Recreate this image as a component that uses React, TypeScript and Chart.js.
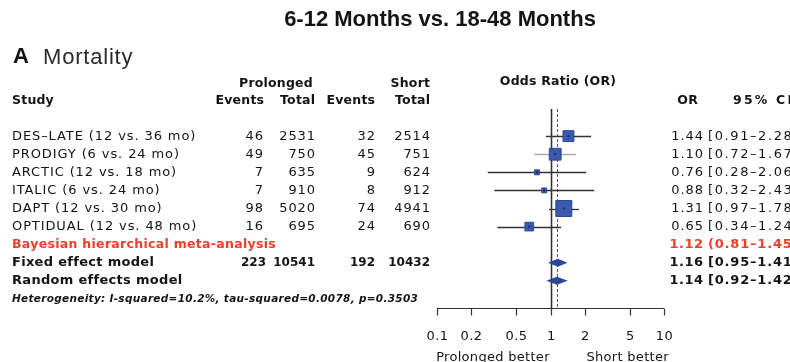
import React, { useEffect, useRef } from "react";
import { Chart, registerables } from "chart.js";

Chart.register(...registerables);

// ---------- data ----------
const title = "6-12 Months vs. 18-48 Months";
const panelLetter = "A";
const panelTitle = "Mortality";
const studies = [
  "DES–LATE (12 vs. 36 mo)",
  "PRODIGY (6 vs. 24 mo)",
  "ARCTIC (12 vs. 18 mo)",
  "ITALIC (6 vs. 24 mo)",
  "DAPT (12 vs. 30 mo)",
  "OPTIDUAL (12 vs. 48 mo)",
];
const eventsProlonged = [46, 49, 7, 7, 98, 16];
const totalProlonged = [2531, 750, 635, 910, 5020, 695];
const eventsShort = [32, 45, 9, 8, 74, 24];
const totalShort = [2514, 751, 624, 912, 4941, 690];
const oddsRatio = [1.44, 1.1, 0.76, 0.88, 1.31, 0.65];
const ciLower = [0.91, 0.72, 0.28, 0.32, 0.97, 0.34];
const ciUpper = [2.28, 1.67, 2.06, 2.43, 1.78, 1.24];
const weights = [19.1, 22.3, 4.0, 3.8, 40.9, 12.0];

const bayesLabel = "Bayesian hierarchical meta-analysis";
const bayesOR = 1.12;
const bayesLower = 0.81;
const bayesUpper = 1.45;

const modelLabels = ["Fixed effect model", "Random effects model"];
const modelOR = [1.16, 1.14];
const modelLower = [0.95, 0.92];
const modelUpper = [1.41, 1.42];
const totalEventsProlonged = 223;
const totalNProlonged = 10541;
const totalEventsShort = 192;
const totalNShort = 10432;

const heterogeneity =
  "Heterogeneity: I-squared=10.2%, tau-squared=0.0078, p=0.3503";
const axisTicks = [0.1, 0.2, 0.5, 1, 2, 5, 10];
const axisTickLabels = ["0.1", "0.2", "0.5", "1", "2", "5", "10"];
const leftFavours = "Prolonged better";
const rightFavours = "Short better";

// ---------- styles ----------
const FONT = "'DejaVu Sans', sans-serif";
const TEXT = "#141414";
const RED = "#ec3f2b";
const BOX = "#3b59ad";
const DIAMOND = "#2b4797";

const fmt = (v: number) => v.toFixed(2);
const ci = (lo: number, hi: number) => `[${fmt(lo)}–${fmt(hi)}]`;

function txt(
  ctx: CanvasRenderingContext2D,
  s: string,
  x: number,
  y: number,
  font: string,
  align: CanvasTextAlign = "left",
  color = TEXT,
  spacing = 0
) {
  ctx.save();
  ctx.font = font;
  ctx.fillStyle = color;
  ctx.textAlign = align;
  ctx.textBaseline = "middle";
  (ctx as any).letterSpacing = spacing + "px";
  ctx.fillText(s, align === "right" ? x + spacing : x, y);
  ctx.restore();
}

const forestPlugin = {
  id: "forest",
  beforeDatasetsDraw(chart: any) {
    const { ctx, chartArea, scales } = chart;
    const xs = scales.x;
    const ys = scales.y;
    ctx.save();
    // reference line at 1
    ctx.strokeStyle = "#333";
    ctx.lineWidth = 1.6;
    const x1 = Math.round(xs.getPixelForValue(1)) + 0.5;
    ctx.beginPath();
    ctx.moveTo(x1, chartArea.top);
    ctx.lineTo(x1, chartArea.bottom);
    ctx.stroke();
    // dashed summary line
    ctx.strokeStyle = "#555";
    ctx.lineWidth = 1;
    ctx.setLineDash([3, 2]);
    const xr = Math.round(xs.getPixelForValue(modelOR[1])) + 0.5;
    ctx.beginPath();
    ctx.moveTo(xr, chartArea.top);
    ctx.lineTo(xr, chartArea.bottom);
    ctx.stroke();
    ctx.setLineDash([]);
    // CI lines
    studies.forEach((_, i) => {
      const y = Math.round(ys.getPixelForValue(i)) + 0.5;
      ctx.strokeStyle = i === 1 ? "#a8a8a8" : "#333";
      ctx.lineWidth = 1.3;
      ctx.beginPath();
      ctx.moveTo(xs.getPixelForValue(ciLower[i]), y);
      ctx.lineTo(xs.getPixelForValue(ciUpper[i]), y);
      ctx.stroke();
    });
    ctx.restore();
  },
  afterDatasetsDraw(chart: any) {
    const { ctx, chartArea, scales } = chart;
    const xs = scales.x;
    const ys = scales.y;
    ctx.save();
    // center marks
    studies.forEach((_, i) => {
      const y = ys.getPixelForValue(i);
      ctx.fillStyle = "#1a2a5a";
      ctx.fillRect(xs.getPixelForValue(oddsRatio[i]) - 1, y - 1, 2, 2);
    });
    // diamonds
    modelLabels.forEach((_, k) => {
      const y = ys.getPixelForValue(studies.length + 1 + k);
      ctx.fillStyle = DIAMOND;
      ctx.beginPath();
      ctx.moveTo(xs.getPixelForValue(modelLower[k]), y);
      ctx.lineTo(xs.getPixelForValue(modelOR[k]), y - 4);
      ctx.lineTo(xs.getPixelForValue(modelUpper[k]), y);
      ctx.lineTo(xs.getPixelForValue(modelOR[k]), y + 4);
      ctx.closePath();
      ctx.fill();
    });
    // axis
    const yb = Math.round(chartArea.bottom) + 0.5;
    ctx.strokeStyle = "#333";
    ctx.lineWidth = 1.2;
    ctx.beginPath();
    ctx.moveTo(xs.getPixelForValue(axisTicks[0]), yb);
    ctx.lineTo(xs.getPixelForValue(axisTicks[axisTicks.length - 1]), yb);
    ctx.stroke();
    axisTicks.forEach((t, i) => {
      const x = Math.round(xs.getPixelForValue(t)) + 0.5;
      ctx.beginPath();
      ctx.moveTo(x, yb);
      ctx.lineTo(x, yb + 7);
      ctx.stroke();
      txt(ctx, axisTickLabels[i], x, yb + 28, `13px ${FONT}`, "center", TEXT, 0.5);
    });
    const x1 = xs.getPixelForValue(1);
    txt(ctx, leftFavours, x1 - 1, yb + 49, `13px ${FONT}`, "right", TEXT, 0.3);
    txt(ctx, rightFavours, x1 + 36, yb + 49, `13px ${FONT}`, "left", TEXT, 0.3);

    // titles
    txt(ctx, title, 440, 20, `bold 22px 'Liberation Sans', Arial, sans-serif`, "center");
    txt(ctx, panelLetter, 13, 57, `bold 22px 'Liberation Sans', Arial, sans-serif`, "left");
    txt(ctx, panelTitle, 43, 58, `22px 'Liberation Sans', Arial, sans-serif`, "left", "#2a2a2a", 0.8);

    // headers
    const hb = `bold 12.5px ${FONT}`;
    txt(ctx, "Prolonged", 276, 84, hb, "center", TEXT, 0.2);
    txt(ctx, "Short", 430, 84, hb, "right", TEXT, 0.2);
    txt(ctx, "Study", 12, 101, hb, "left", TEXT, 0.2);
    txt(ctx, "Events", 264, 101, hb, "right", TEXT, 0.2);
    txt(ctx, "Total", 315, 101, hb, "right", TEXT, 0.2);
    txt(ctx, "Events", 375, 101, hb, "right", TEXT, 0.2);
    txt(ctx, "Total", 430, 101, hb, "right", TEXT, 0.2);
    txt(ctx, "Odds Ratio (OR)", 558, 82, hb, "center", TEXT, 0.2);
    txt(ctx, "OR", 698, 101, hb, "right", TEXT, 0.6);
    txt(ctx, "95% CI", 733, 101, hb, "left", TEXT, 2.2);

    // study rows
    const f = `13px ${FONT}`;
    studies.forEach((s, i) => {
      const y = ys.getPixelForValue(i);
      txt(ctx, s, 12, y, f, "left", TEXT, 0.9);
      txt(ctx, String(eventsProlonged[i]), 263, y, f, "right", TEXT, 0.9);
      txt(ctx, String(totalProlonged[i]), 315, y, f, "right", TEXT, 0.9);
      txt(ctx, String(eventsShort[i]), 375, y, f, "right", TEXT, 0.9);
      txt(ctx, String(totalShort[i]), 430, y, f, "right", TEXT, 0.9);
      txt(ctx, fmt(oddsRatio[i]), 703, y, f, "right", TEXT, 0.9);
      txt(ctx, ci(ciLower[i], ciUpper[i]), 708, y, f, "left", TEXT, 1.6);
    });
    // bayesian row
    const yb6 = ys.getPixelForValue(studies.length);
    txt(ctx, bayesLabel, 12, yb6, `bold 12.5px ${FONT}`, "left", RED, 0.3);
    txt(ctx, fmt(bayesOR), 703, yb6, `bold 13px ${FONT}`, "right", RED, 0.5);
    txt(
      ctx,
      `(${fmt(bayesLower)}–${fmt(bayesUpper)})`,
      708,
      yb6,
      `bold 13px ${FONT}`,
      "left",
      RED,
      0.8
    );
    // model rows
    const fb = `bold 13px ${FONT}`;
    const fbn = `bold 12px ${FONT}`;
    modelLabels.forEach((s, k) => {
      const y = ys.getPixelForValue(studies.length + 1 + k);
      txt(ctx, s, 12, y, fb, "left", TEXT, 0.3);
      if (k === 0) {
        txt(ctx, String(totalEventsProlonged), 266, y, fbn, "right", TEXT, 0);
        txt(ctx, String(totalNProlonged), 315, y, fbn, "right", TEXT, 0);
        txt(ctx, String(totalEventsShort), 375, y, fbn, "right", TEXT, 0);
        txt(ctx, String(totalNShort), 430, y, fbn, "right", TEXT, 0);
      }
      txt(ctx, fmt(modelOR[k]), 703, y, fb, "right", TEXT, 0.5);
      txt(ctx, ci(modelLower[k], modelUpper[k]), 708, y, fb, "left", TEXT, 0.8);
    });
    // heterogeneity
    txt(
      ctx,
      heterogeneity,
      12,
      ys.getPixelForValue(studies.length + 3),
      `italic bold 10.5px ${FONT}`,
      "left",
      TEXT,
      0.3
    );
    ctx.restore();
  },
};

export default function App() {
  const ref = useRef<HTMLCanvasElement | null>(null);
  useEffect(() => {
    document.body.style.margin = "0";
    const canvas = ref.current;
    if (!canvas) return;
    const chart = new Chart(canvas, {
      type: "scatter",
      data: {
        datasets: [
          {
            data: studies.map((_, i) => ({ x: oddsRatio[i], y: i })),
            pointStyle: "rect",
            pointRadius: weights.map((w) => (2.5 * Math.sqrt(w)) / Math.SQRT2),
            backgroundColor: BOX,
            borderColor: "#2d478f",
            borderWidth: 1,
          },
        ],
      },
      options: {
        animation: false,
        responsive: false,
        events: [],
        layout: { padding: { left: 437, right: 126, top: 109, bottom: 54 } },
        plugins: { legend: { display: false }, tooltip: { enabled: false } },
        scales: {
          x: { type: "logarithmic", min: 0.1, max: 10, display: false },
          y: { type: "linear", min: -1.5, max: 9.5, reverse: true, display: false },
        },
      },
      plugins: [forestPlugin],
    });
    return () => chart.destroy();
  }, []);
  return (
    <div style={{ position: "absolute", left: 0, top: 0, width: 790, height: 362, background: "#fff" }}>
      <canvas ref={ref} width={790} height={362} style={{ display: "block" }} />
    </div>
  );
}
